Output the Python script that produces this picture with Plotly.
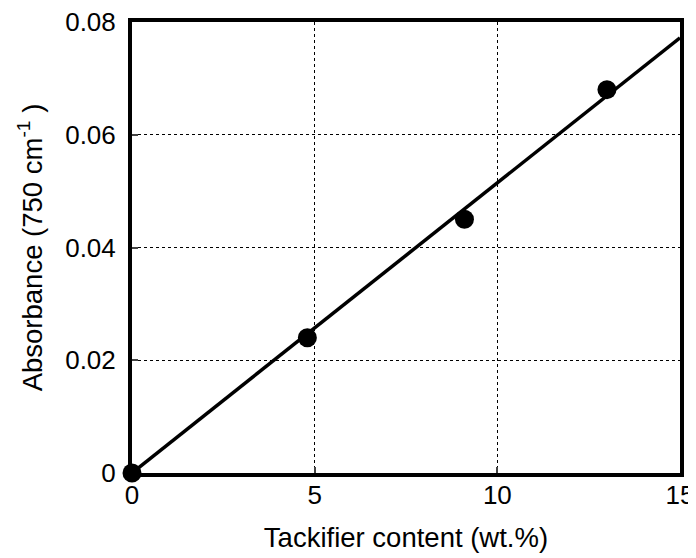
import plotly.graph_objects as go

tack = [0, 4.8, 9.1, 13.0]
absorb = [0.0, 0.024, 0.045, 0.068]
fit_x = [0, 15]
fit_y = [0.0, 0.0772]
x_ticks = [0, 5, 10, 15]
y_ticks = [0, 0.02, 0.04, 0.06, 0.08]
y_tick_text = ["0", "0.02", "0.04", "0.06", "0.08"]

fig = go.Figure()
fig.add_trace(go.Scatter(x=fit_x, y=fit_y, mode="lines",
                         line=dict(color="black", width=3.5), showlegend=False))
fig.add_trace(go.Scatter(x=tack, y=absorb, mode="markers",
                         marker=dict(color="black", size=19), showlegend=False, cliponaxis=False))

tfont = dict(family="Liberation Sans, Arial, sans-serif", size=26, color="black")
hfont = dict(family="Liberation Sans, Arial, sans-serif", size=27.5, color="black")
fig.update_layout(
    width=688, height=550,
    margin=dict(l=124, r=16, t=14, b=85, autoexpand=False),
    plot_bgcolor="white", paper_bgcolor="white",
    font=tfont,
    xaxis=dict(range=[0, 15], tickvals=x_ticks, showgrid=True, gridcolor="black",
               griddash="dot", gridwidth=1, showline=True, linecolor="black", linewidth=4,
               mirror=True, ticks="inside", ticklen=6, tickwidth=2, zeroline=False,
               tickfont=tfont, automargin=False, ticklabelstandoff=-4,
               ticklabeloverflow="allow",
               title=dict(text="Tackifier content (wt.%)", font=hfont, standoff=20)),
    yaxis=dict(range=[0, 0.08], tickvals=y_ticks, ticktext=y_tick_text, showgrid=True,
               gridcolor="black", griddash="dot", gridwidth=1, showline=True,
               linecolor="black", linewidth=4, mirror=True, ticks="inside", ticklen=6,
               tickwidth=2, zeroline=False, tickfont=tfont, automargin=False,
               ticklabelstandoff=7, ticklabeloverflow="allow",
               title=dict(text="Absorbance (750 cm<sup>-1</sup> )", font=hfont, standoff=16)),
)
fig.write_html("out.html")
